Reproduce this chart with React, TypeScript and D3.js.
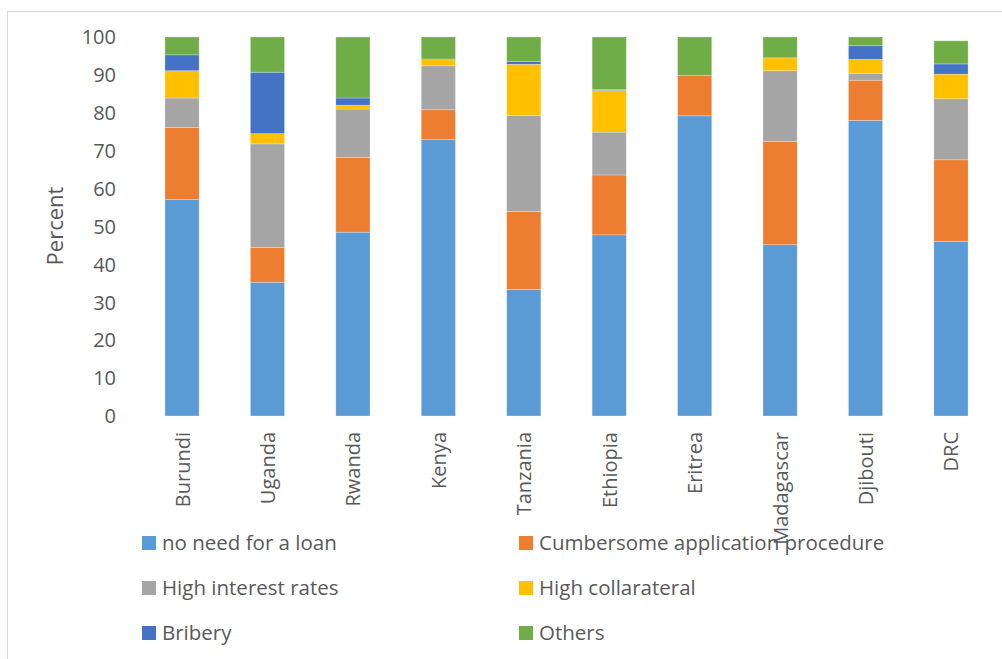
import React from "react";
import * as d3 from "d3";

const countries = ["Burundi", "Uganda", "Rwanda", "Kenya", "Tanzania", "Ethiopia", "Eritrea", "Madagascar", "Djibouti", "DRC"];
const noNeed = [57.1, 35.3, 48.5, 72.9, 33.4, 47.8, 79.2, 45.2, 78.0, 46.1];
const cumbersome = [19.0, 9.2, 19.7, 7.9, 20.6, 15.8, 10.7, 27.2, 10.6, 21.5];
const interest = [7.8, 27.3, 12.8, 11.6, 25.3, 11.3, 0, 18.7, 1.8, 16.1];
const collateral = [7.2, 2.7, 1.0, 1.6, 13.5, 11.0, 0, 3.4, 3.7, 6.5];
const bribery = [4.2, 16.2, 1.9, 0.2, 0.7, 0.2, 0, 0, 3.6, 2.7];
const others = [4.7, 9.3, 16.1, 5.8, 6.5, 13.9, 10.1, 5.5, 2.3, 6.1];
const seriesNames = ["no need for a loan", "Cumbersome application procedure", "High interest rates", "High collarateral", "Bribery", "Others"];
const seriesColors = ["#5B9BD5", "#ED7D31", "#A5A5A5", "#FFC000", "#4472C4", "#70AD47"];
const yTicks = [0, 10, 20, 30, 40, 50, 60, 70, 80, 90, 100];

const seriesValues = [noNeed, cumbersome, interest, collateral, bribery, others];
const keys = seriesNames;

export default function App() {
  const W = 1002, H = 659;
  const rows = countries.map((c, i) => {
    const r: any = { country: c };
    keys.forEach((k, s) => (r[k] = seriesValues[s][i]));
    return r;
  });
  const stacked = d3.stack<any>().keys(keys)(rows);
  const x = d3.scaleBand<string>().domain(countries).range([139.3, 993.7]).paddingInner(0.6).paddingOuter(0.3);
  const y = d3.scaleLinear().domain([0, 100]).range([416, 37]);
  const font = "'Open Sans', sans-serif";
  const textColor = "#595959";

  return (
    <svg width={W} height={H} style={{ position: "absolute", left: 0, top: 0, background: "#fff" }}>
      <rect x={7.5} y={11.5} width={W} height={H} fill="#fff" stroke="#D9D9D9" strokeWidth={1} />
      {yTicks.map((t) => (
        <text key={t} x={116} y={y(t)} dy="0.36em" textAnchor="end" fontFamily={font} fontSize={20} fill={textColor}>
          {t}
        </text>
      ))}
      <text transform={`translate(63,226) rotate(-90)`} textAnchor="middle" fontFamily={font} fontSize={22} fill={textColor}>
        Percent
      </text>
      {stacked.map((layer, s) => (
        <g key={layer.key} fill={seriesColors[s]}>
          {layer.map((d, i) =>
            d[1] - d[0] > 0 ? (
              <rect
                key={i}
                x={x(countries[i])}
                y={y(d[1])}
                width={x.bandwidth()}
                height={y(d[0]) - y(d[1])}
                stroke="#fff"
                strokeOpacity={0.35}
                strokeWidth={0.75}
              />
            ) : null
          )}
        </g>
      ))}
      {countries.map((c) => (
        <text
          key={c}
          transform={`translate(${(x(c) as number) + x.bandwidth() / 2 + 7.5},432) rotate(-90)`}
          textAnchor="end"
          fontFamily={font}
          fontSize={20}
          fill={textColor}
        >
          {c}
        </text>
      ))}
      {seriesNames.map((name, s) => {
        const col = s % 2;
        const row = Math.floor(s / 2);
        const sx = col === 0 ? 142 : 519;
        const sy = 536 + row * 45;
        return (
          <g key={name}>
            <rect x={sx} y={sy} width={14} height={14} fill={seriesColors[s]} />
            <text x={sx + 20} y={sy + 13.5} fontFamily={font} fontSize={20.5} fill={textColor}>
              {name}
            </text>
          </g>
        );
      })}
    </svg>
  );
}
